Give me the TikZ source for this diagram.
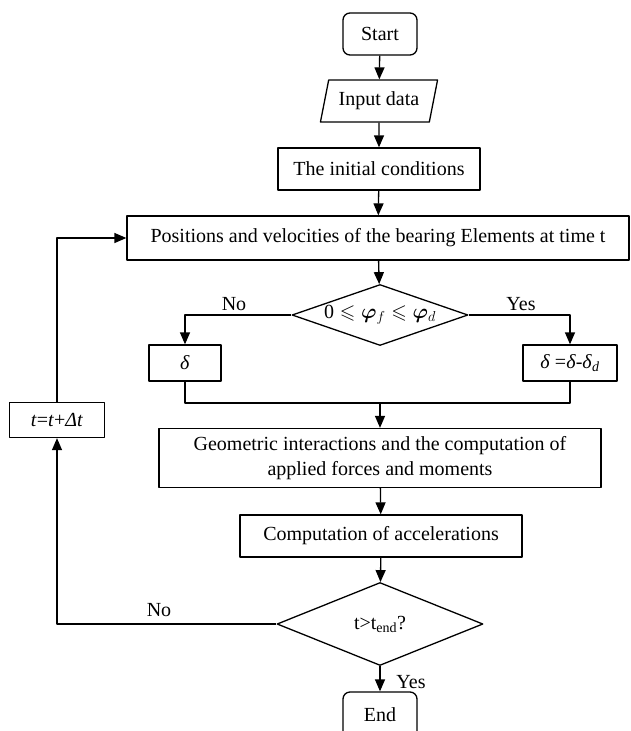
\documentclass[tikz,border=0pt]{standalone}
\usepackage{amsmath,amssymb,bm}
\usepackage{fontspec}
\setmainfont{Liberation Serif}
\usetikzlibrary{shapes.geometric,arrows.meta}

\begin{document}
\begin{tikzpicture}[x=1pt,y=-1pt,line width=1.3pt,join=round,
       font=\fontsize{20}{25}\selectfont,
       blk/.style={draw,rectangle,inner sep=0pt,align=center},
       term/.style={blk,rounded corners=7pt},
       iobox/.style={draw,trapezium,trapezium left angle=70,trapezium right angle=110,
                     trapezium stretches=true,inner sep=0pt},
       decide/.style={draw,diamond,inner sep=0pt},
       arr/.style={-{Triangle[length=12pt,width=10pt]}}] % time stepping flow chart
       \clip (0,0) rectangle (630,731);
       \node[term,minimum width=74pt,minimum height=42pt] (start) at (380,34) {Start};
       \node[iobox,minimum width=118pt,minimum height=42pt] (input) at (379,101) {Input data};
       \node[blk,minimum width=202pt,minimum height=42pt] (init) at (379,169) {The initial conditions};
       \node[blk,minimum width=502pt,minimum height=44pt] (pos) at (378,238)
             {Positions and velocities of the bearing Elements at time t};
       \node[decide,aspect=2.9,minimum width=176pt,minimum height=61pt] (angle) at (380,315)
             {$\mbox{0}\leqslant\bm{\varphi}_{f}\leqslant\bm{\varphi}_{d}$};
       \node[blk,minimum width=72pt,minimum height=36pt] (dnone) at (185,363) {\textit{δ}};
       \node[blk,minimum width=94pt,minimum height=36pt] (dcut) at (570,363)
             {\textit{δ} =\textit{δ}-\textit{δ}\textsubscript{\textit{d}}};
       \node[blk,minimum width=442pt,minimum height=59pt] (geom) at (380,458)
             {Geometric interactions and the computation of\\applied forces and moments};
       \node[blk,minimum width=282pt,minimum height=42pt] (accel) at (381,536) {Computation of accelerations};
       \node[decide,aspect=2.5,minimum width=206pt,minimum height=83pt] (tcheck) at (380,624) {t>t\textsubscript{end}?};
       \node[term,minimum width=74pt,minimum height=46pt] (stop) at (380,715) {End};
       \node[blk,minimum width=95pt,minimum height=35pt] (tstep) at (57,420) {\textit{t}=\textit{t}+\textit{Δt}};
       \coordinate (merge) at (380,403);
       \node (no1) at (234,304) {No};
       \node (yes1) at (521,304) {Yes};
       \node (no2) at (159,610) {No};
       \node (yes2) at (411,682) {Yes};
       \draw[arr] (start) -- (input);
       \draw[arr] (input) -- (init);
       \draw[arr] (init) -- (pos);
       \draw[arr] (pos) -- (angle);
       \draw[arr] (angle.west) -| (dnone.north);
       \draw[arr] (angle.east) -| (dcut.north);
       \draw (dnone.south) |- (merge) -| (dcut.south);
       \draw[arr] (merge) -- (geom);
       \draw[arr] (geom) -- (accel);
       \draw[arr] (accel) -- (tcheck);
       \draw[arr] (tcheck) -- (stop);
       \draw[arr] (tcheck.west) -| (tstep.south);
       \draw[arr] (tstep.north) |- (pos.west);
\end{tikzpicture}
\end{document}
